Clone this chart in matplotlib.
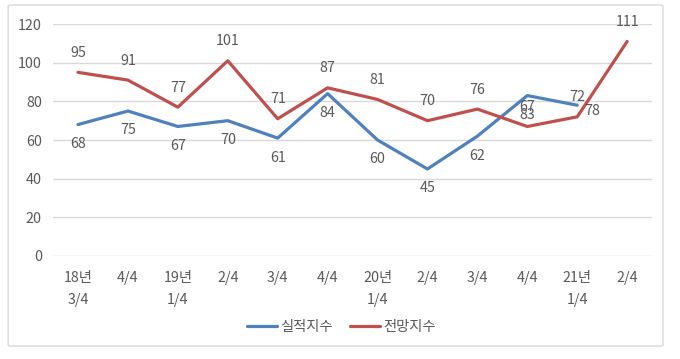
import matplotlib
matplotlib.use("Agg")
import matplotlib.pyplot as plt
from matplotlib.patches import FancyBboxPatch

plt.rcParams['font.family'] = ['Noto Sans CJK KR', 'DejaVu Sans']

quarters = ['18년\n3/4', '4/4', '19년\n1/4', '2/4', '3/4', '4/4',
            '20년\n1/4', '2/4', '3/4', '4/4', '21년\n1/4', '2/4']
actual = [68, 75, 67, 70, 61, 84, 60, 45, 62, 83, 78]
outlook = [95, 91, 77, 101, 71, 87, 81, 70, 76, 67, 72, 111]

blue = '#4F81BD'
red = '#C0504D'
txt = '#595959'
fs = 10.3

fig = plt.figure(figsize=(6.8, 3.59), dpi=100)
ax = fig.add_axes([0.078, 0.287, 0.881, 0.646])

# chart area border
fig.patches.append(FancyBboxPatch((0.012, 0.036), 0.963, 0.95,
                                  boxstyle='round,pad=0,rounding_size=0.004',
                                  transform=fig.transFigure, fill=False,
                                  edgecolor='#D9D9D9', linewidth=1))

x_act = list(range(len(actual)))
x_out = list(range(len(outlook)))
ax.plot(x_act, actual, color=blue, linewidth=2.3, label='실적지수',
        solid_capstyle='round', solid_joinstyle='round')
ax.plot(x_out, outlook, color=red, linewidth=2.3, label='전망지수',
        solid_capstyle='round', solid_joinstyle='round')

for i, v in enumerate(actual):
    if i == len(actual) - 1:
        ax.annotate(str(v), (i, v), xytext=(11, -4), textcoords='offset points',
                    ha='center', va='center', fontsize=fs, color=txt)
    else:
        ax.annotate(str(v), (i, v), xytext=(0, -14), textcoords='offset points',
                    ha='center', va='center', fontsize=fs, color=txt)
for i, v in enumerate(outlook):
    ax.annotate(str(v), (i, v), xytext=(0, 14), textcoords='offset points',
                ha='center', va='center', fontsize=fs, color=txt)

ax.set_xlim(-0.5, len(quarters) - 0.5)
ax.set_ylim(0, 120)
ax.set_yticks(range(0, 121, 20))
ax.set_xticks(x_out)
ax.set_xticklabels(quarters, linespacing=1.75)
ax.tick_params(axis='both', length=0, colors=txt, labelsize=fs)
ax.tick_params(axis='x', pad=11)
ax.tick_params(axis='y', pad=8)
ax.grid(axis='y', color='#D9D9D9', linewidth=1)
ax.set_axisbelow(True)
for s in ax.spines.values():
    s.set_visible(False)

leg = fig.legend(loc='center', bbox_to_anchor=(0.502, 0.088), ncol=2, frameon=False,
                 fontsize=fs, handlelength=2.1, handletextpad=0.2, columnspacing=1.2)
for t in leg.get_texts():
    t.set_color(txt)

fig.savefig('out.png', dpi=100)
